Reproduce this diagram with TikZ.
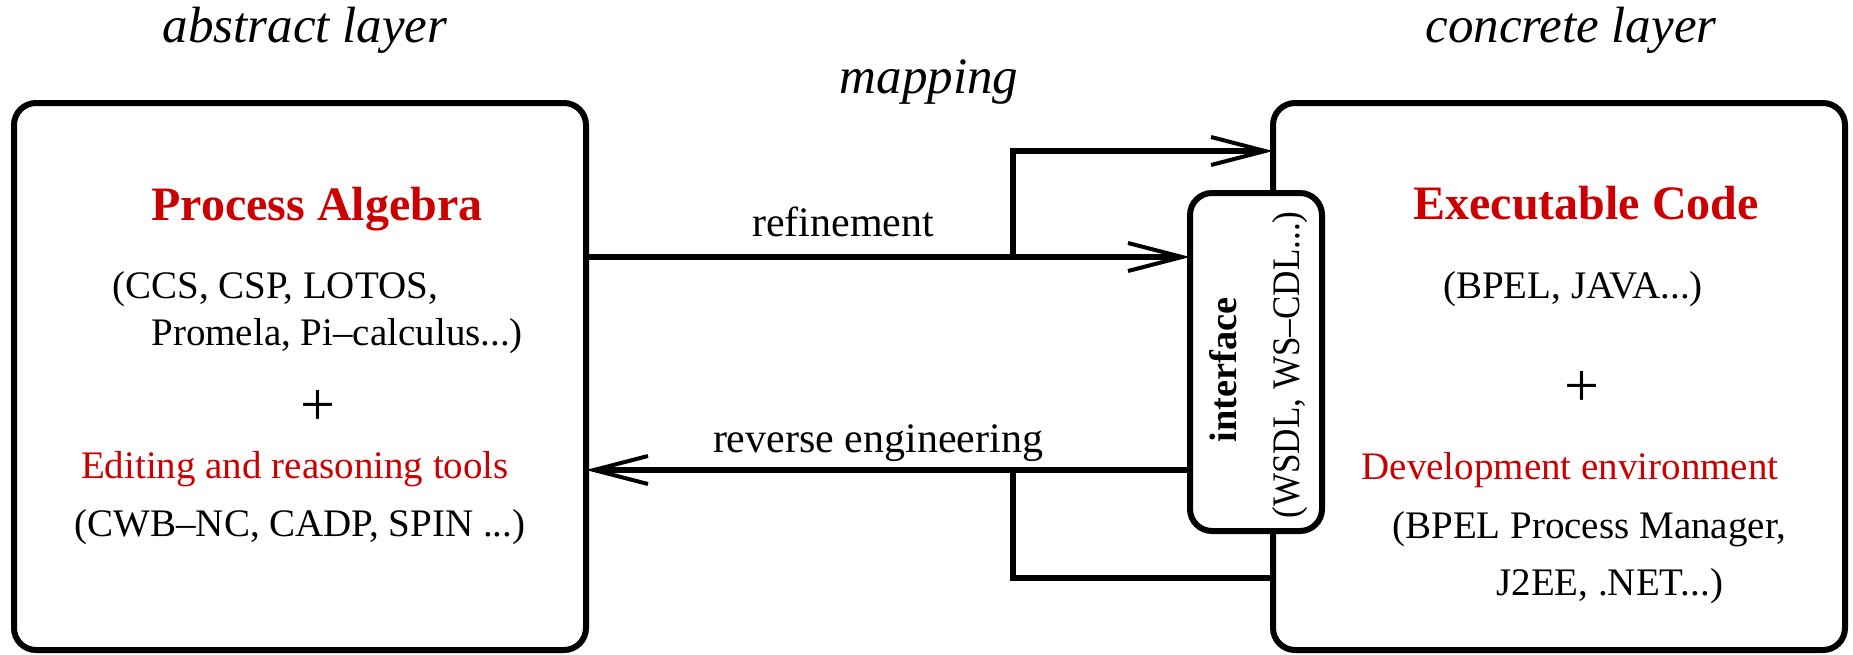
\documentclass[tikz,border=0pt]{standalone}
\usepackage{fontspec}
\setmainfont{Liberation Serif}
\usetikzlibrary{arrows.meta}
\definecolor{titlered}{RGB}{204,0,0}
\begin{document}
\begin{tikzpicture}[x=0.5pt,y=-0.5pt,
  layerbox/.style={draw, line width=3pt, rounded corners=11pt, inner sep=0pt,
    outer sep=0pt, minimum width=286pt, minimum height=273.5pt},
  ifacebox/.style={draw, line width=3pt, rounded corners=11pt, inner sep=0pt,
    outer sep=0pt, fill=white, minimum width=66pt, minimum height=169pt},
  flow/.style={line width=3pt, line join=miter},
  tip/.style={-{Straight Barb[length=27pt,width=14pt,line width=2pt]}},
  head/.style={font=\fontsize{25.5}{30}\selectfont\itshape, anchor=base, inner sep=0pt},
  title/.style={font=\fontsize{24}{28}\selectfont\bfseries, text=titlered, anchor=base, inner sep=0pt},
  body/.style={font=\fontsize{19.5}{24}\selectfont, anchor=base, inner sep=0pt},
  lab/.style={font=\fontsize{21}{25}\selectfont, anchor=base, inner sep=0pt},
  plus/.style={font=\fontsize{31}{35}\selectfont, inner sep=0pt},
]
\useasboundingbox (0,0) rectangle (1853,654);

% layer headings
\node[head] (habs)  at (305,42)  {abstract layer};
\node[head] (hconc) at (1571,42) {concrete layer};
\node[head] (hmap)  at (929,93)  {mapping};

% the two layers
\node[layerbox] (abs)  at (300,376.5)  {};
\node[layerbox] (conc) at (1559,376.5) {};

% y levels and branch column of the connectors
\coordinate (yUp)  at (0,151);
\coordinate (yRef) at (0,257);
\coordinate (yRev) at (0,470);
\coordinate (yLow) at (0,578);
\coordinate (xBr)  at (1013,0);

% interface between the layers
\node[ifacebox] (iface) at (1256,362) {};
\node[font=\fontsize{19.2}{22}\selectfont\bfseries, rotate=90, anchor=base, inner sep=0pt]
  (ifname) at (1236,370) {interface};
\node[font=\fontsize{19.5}{22}\selectfont, rotate=90, xscale=0.9, anchor=base, inner sep=0pt]
  (ifdesc) at (1299,365) {(WSDL, WS–CDL...)};

% abstract layer contents
\node[title] (tpa) at (317,220) {Process Algebra};
\node[body, anchor=base west] (pa1) at (112,298) {(CCS, CSP, LOTOS,};
\node[body, anchor=base west] (pa2) at (151,345) {Promela, Pi–calculus...)};
\node[plus] (plus1) at (318,408) {+};
\node[body, text=titlered] (pa3) at (295,478) {Editing and reasoning tools};
\node[body] (pa4) at (300,536) {(CWB–NC, CADP, SPIN ...)};

% concrete layer contents
\node[title] (tec) at (1586,219) {Executable Code};
\node[body] (ec1) at (1573,298) {(BPEL, JAVA...)};
\node[plus] (plus2) at (1582,389) {+};
\node[body, text=titlered] (ec2) at (1570,479) {Development environment};
\node[body, anchor=base west] (ec3) at (1392,538) {(BPEL Process Manager,};
\node[body, anchor=base west] (ec4) at (1496,595) {J2EE, .NET...)};

% mapping connectors
\node[lab] (lref) at (843,236) {refinement};
\node[lab] (lrev) at (878,452) {reverse engineering};
\draw[flow,tip] (abs.east |- yRef) -- (iface.west |- yRef);
\draw[flow,tip] (xBr |- yRef) -- (xBr |- yUp) -- (conc.west |- yUp);
\draw[flow,tip] (iface.west |- yRev) -- (abs.east |- yRev);
\draw[flow] (xBr |- yRev) -- (xBr |- yLow) -- (conc.west |- yLow);
\end{tikzpicture}
\end{document}
